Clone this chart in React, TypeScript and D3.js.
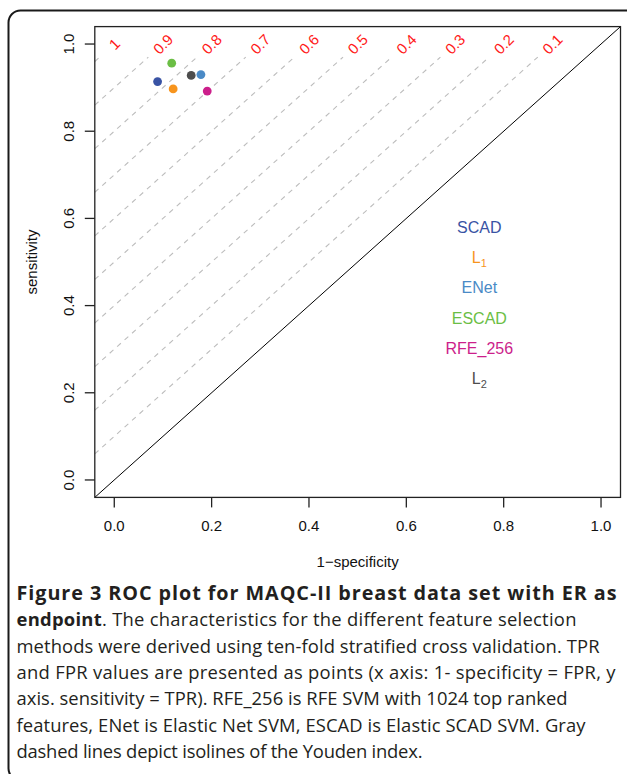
import React from "react";
import * as d3 from "d3";

// ---- data ----
const methods = ["SCAD", "L1", "ENet", "ESCAD", "RFE_256", "L2"];
const fpr = [0.089, 0.121, 0.178, 0.118, 0.191, 0.158];
const tpr = [0.914, 0.897, 0.930, 0.956, 0.892, 0.928];
const methodColors = ["#3953A4", "#F7941D", "#4A8AC6", "#6BBE45", "#CC1F8B", "#4D4D4D"];
const youden = [1, 0.9, 0.8, 0.7, 0.6, 0.5, 0.4, 0.3, 0.2, 0.1];
const xTicks = [0, 0.2, 0.4, 0.6, 0.8, 1.0];
const yTicks = [0, 0.2, 0.4, 0.6, 0.8, 1.0];

const captionLines: { t: string; b: boolean }[][] = [
  [{ t: "Figure 3 ROC plot for MAQC-II breast data set with ER as", b: true }],
  [
    { t: "endpoint", b: true },
    { t: ". The characteristics for the different feature selection", b: false },
  ],
  [{ t: "methods were derived using ten-fold stratified cross validation. TPR", b: false }],
  [{ t: "and FPR values are presented as points (x axis: 1- specificity = FPR, y", b: false }],
  [{ t: "axis. sensitivity = TPR). RFE_256 is RFE SVM with 1024 top ranked", b: false }],
  [{ t: "features, ENet is Elastic Net SVM, ESCAD is Elastic SCAD SVM. Gray", b: false }],
  [{ t: "dashed lines depict isolines of the Youden index.", b: false }],
];
const captionWidths = [600, 560, 583, 599, 551, 569, 406];

const W = 627;
const H = 774;
const left = 94.8;
const right = 620.5;
const top = 26.6;
const bottom = 497.4;
const FONT = "'Liberation Sans', Arial, Helvetica, sans-serif";

export default function App() {
  const x = d3.scaleLinear().domain([-0.04, 1.04]).range([left, right]);
  const y = d3.scaleLinear().domain([-0.04, 1.04]).range([bottom, top]);
  const fmt = d3.format(".1f");
  const line = d3
    .line<[number, number]>()
    .x((d) => x(d[0]))
    .y((d) => y(d[1]));

  const gap = 0.03;

  return (
    <svg
      width={W}
      height={H}
      style={{ position: "absolute", left: 0, top: 0, background: "#fff" }}
      fontFamily={FONT}
    >
      <rect x={0} y={0} width={W} height={H} fill="#fff" />
      {/* outer frame */}
      <rect
        x={8.5}
        y={10.5}
        width={660}
        height={770}
        rx={12}
        ry={12}
        fill="none"
        stroke="#1a1a1a"
        strokeWidth={2}
      />

      <defs>
        <clipPath id="plotclip">
          <rect x={left} y={top} width={right - left} height={bottom - top} />
        </clipPath>
      </defs>

      {/* Youden isolines */}
      <g clipPath="url(#plotclip)">
        {youden.map((j) => (
          <path
            key={j}
            d={line([
              [-0.04, -0.04 + j],
              [1 - j - gap, 1 - gap],
            ]) as string}
            stroke="#bdbdbd"
            strokeWidth={1.1}
            strokeDasharray="5,5"
            fill="none"
          />
        ))}
        <path
          d={line([
            [-0.04, -0.04],
            [1.04, 1.04],
          ]) as string}
          stroke="#000"
          strokeWidth={1}
          fill="none"
        />
      </g>

      {/* Youden labels */}
      {youden.map((j) => (
        <text
          key={"l" + j}
          transform={`translate(${x(1 - j)},${y(1)}) rotate(-45)`}
          textAnchor="middle"
          dy="0.36em"
          fontSize={15}
          fill="#ff1a1a"
        >
          {j === 1 ? "1" : String(j)}
        </text>
      ))}

      {/* points */}
      {methods.map((m, i) => (
        <circle key={m} cx={x(fpr[i])} cy={y(tpr[i])} r={4.4} fill={methodColors[i]} />
      ))}

      {/* legend text */}
      {methods.map((m, i) => {
        const ly = y(0.58 - i * 0.0695);
        const sub = m === "L1" || m === "L2";
        return (
          <text
            key={"t" + m}
            x={x(0.75)}
            y={ly}
            dy="0.36em"
            textAnchor="middle"
            fontSize={16}
            fill={methodColors[i]}
          >
            {sub ? (
              <>
                <tspan>L</tspan>
                <tspan fontSize={11} dy={4}>
                  {m.slice(1)}
                </tspan>
              </>
            ) : (
              m
            )}
          </text>
        );
      })}

      {/* plot box */}
      <rect
        x={left}
        y={top}
        width={right - left}
        height={bottom - top}
        fill="none"
        stroke="#222"
        strokeWidth={1.3}
      />

      {/* x axis */}
      {xTicks.map((t) => (
        <g key={"x" + t}>
          <line x1={x(t)} x2={x(t)} y1={bottom} y2={bottom + 10} stroke="#222" strokeWidth={1.3} />
          <text x={x(t)} y={531} textAnchor="middle" fontSize={15} fill="#111">
            {fmt(t)}
          </text>
        </g>
      ))}
      <text x={(left + right) / 2} y={567} textAnchor="middle" fontSize={15} fill="#111">
        1−specificity
      </text>

      {/* y axis */}
      {yTicks.map((t) => (
        <g key={"y" + t}>
          <line x1={left - 10} x2={left} y1={y(t)} y2={y(t)} stroke="#222" strokeWidth={1.3} />
          <text
            transform={`translate(74,${y(t)}) rotate(-90)`}
            textAnchor="middle"
            fontSize={15}
            fill="#111"
          >
            {fmt(t)}
          </text>
        </g>
      ))}
      <text
        transform={`translate(37,${(top + bottom) / 2}) rotate(-90)`}
        textAnchor="middle"
        fontSize={15}
        fill="#111"
      >
        sensitivity
      </text>

      {/* caption */}
      {captionLines.map((segs, i) => {
        const allBold = segs.every((s) => s.b);
        return (
          <text
            key={"c" + i}
            x={16.5}
            y={600 + i * 26.3}
            fontFamily="'Open Sans', sans-serif"
            fontSize={allBold ? 19.8 : 18.4}
            fill="#231f20"
            textLength={captionWidths[i]}
            lengthAdjust="spacing"
          >
            {segs.map((s, k) => (
              <tspan key={k} fontWeight={s.b ? 700 : 400}>
                {s.t}
              </tspan>
            ))}
          </text>
        );
      })}
    </svg>
  );
}
